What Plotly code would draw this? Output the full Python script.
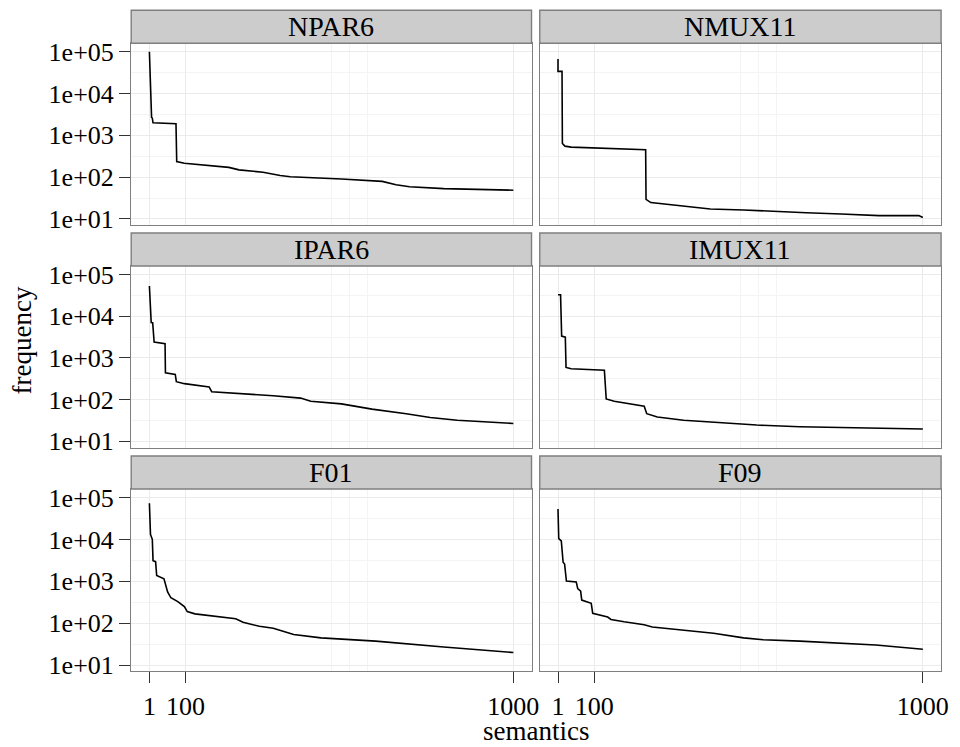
import plotly.graph_objects as go

W, H = 960, 747

panel_titles = ["NPAR6", "NMUX11", "IPAR6", "IMUX11", "F01", "F09"]

npar6_rank = [1, 2, 3, 7, 9, 11, 74, 76, 97, 154, 219, 247, 313, 360, 388, 528, 640, 678, 715, 809, 1000]
npar6_freq = [100000, 52000, 51000, 2700, 2600, 2000, 1900, 235, 214, 195, 171, 149, 131, 109, 102, 90, 79, 66, 59, 53, 48.7]

nmux11_rank = [1, 1, 12, 13, 20, 37, 241, 242, 255, 345, 418, 509, 581, 681, 776, 880, 989, 1000]
nmux11_freq = [67000, 34000, 34000, 640, 552, 524, 453, 29.4, 24.6, 19.8, 17.2, 16.3, 15.1, 14.1, 13.1, 12.0, 12.0, 10.8]

ipar6_rank = [1, 6, 10, 14, 44, 45, 72, 75, 97, 135, 165, 172, 247, 341, 416, 444, 528, 612, 706, 772, 846, 921, 1000]
ipar6_freq = [53300, 7100, 7000, 2400, 2200, 440, 400, 270, 242, 217, 202, 155, 141, 124, 109, 91.4, 79.1, 59.3, 46.1, 37.2, 32.2, 29.4, 26.9]

imux11_rank = [1, 8, 11, 21, 23, 37, 128, 133, 155, 237, 244, 273, 345, 454, 545, 663, 835, 1000]
imux11_freq = [32800, 32800, 3340, 3160, 593, 552, 505, 104, 91.4, 69.8, 46.1, 38.5, 32.2, 27.9, 24.6, 22.5, 20.9, 19.8]

f01_rank = [1, 4, 9, 11, 18, 21, 41, 46, 51, 60, 79, 97, 105, 126, 172, 238, 258, 303, 341, 397, 472, 622, 809, 1000]
f01_freq = [73600, 13200, 10100, 3120, 2950, 1380, 1155, 777, 561, 405, 327, 249, 190, 167, 150, 128, 105, 84.2, 75.5, 53.6, 44.7, 37.4, 27.0, 19.9]

f09_rank = [1, 3, 10, 15, 19, 24, 51, 55, 63, 66, 92, 96, 137, 146, 182, 237, 259, 336, 427, 509, 563, 663, 781, 871, 1000]
f09_freq = [53100, 10500, 9230, 2850, 2600, 1018, 964, 672, 582, 357, 298, 173, 140, 123, 108, 92.2, 81.3, 70.3, 57.7, 44.7, 40.2, 37.4, 33.0, 30.1, 23.8]

series = [
    (npar6_rank, npar6_freq),
    (nmux11_rank, nmux11_freq),
    (ipar6_rank, ipar6_freq),
    (imux11_rank, imux11_freq),
    (f01_rank, f01_freq),
    (f09_rank, f09_freq),
]

x_ticks = [1, 100, 1000]
x_tick_text = ["1", "100", "1000"]
x_minor = [500, 550, 600]
y_ticks = [10, 100, 1000, 10000, 100000]
y_tick_text = ["1e+01", "1e+02", "1e+03", "1e+04", "1e+05"]
y_minor = [31.62, 316.2, 3162, 31623]

FONT = "Liberation Serif"
BORDER = "#7f7f7f"

# pixel layout of the facet grid
col_px = [(132.3, 536.0), (544.3, 949.0)]
row_px = [(39.0, 224.3), (266.0, 451.0), (493.3, 679.0)]
strip_h = 33.7


def px_x(v):
    return v / W


def px_y(v):
    return 1 - v / H


fig = go.Figure()
layout = dict(
    width=W, height=H,
    margin=dict(l=0, r=0, t=0, b=0),
    paper_bgcolor="white", plot_bgcolor="white",
    showlegend=False,
    font=dict(family=FONT, color="black", size=26),
)
shapes = []
annotations = []

for i, (title, (xs, ys)) in enumerate(zip(panel_titles, series)):
    r, c = divmod(i, 2)
    n = "" if i == 0 else str(i + 1)
    xa, ya = "x" + n, "y" + n
    fig.add_trace(go.Scatter(
        x=xs, y=ys, xaxis=xa, yaxis=ya, mode="lines",
        line=dict(color="black", width=1.6), hoverinfo="skip",
    ))
    x0, x1 = col_px[c]
    y0, y1 = row_px[r]
    bottom = r == 2
    left = c == 0
    layout["xaxis" + n] = dict(
        domain=[px_x(x0), px_x(x1)], anchor=ya,
        range=[-48.95, 1049.95],
        tickmode="array", tickvals=x_ticks, ticktext=x_tick_text,
        showticklabels=bottom, ticks="outside" if bottom else "",
        ticklen=11, tickwidth=1.2, tickcolor="#333333",
        ticklabelstandoff=0,
        tickfont=dict(family=FONT, size=26, color="black"),
        showgrid=True, gridcolor="#ebebeb", gridwidth=1.2,
        minor=dict(tickvals=x_minor, showgrid=True, gridcolor="#f4f4f4", gridwidth=0.8),
        showline=True, linecolor=BORDER, linewidth=1.4, mirror=True,
        zeroline=False, fixedrange=True,
    )
    layout["yaxis" + n] = dict(
        domain=[px_y(y1), px_y(y0)], anchor=xa, type="log",
        range=[0.852, 5.204],
        tickmode="array", tickvals=y_ticks, ticktext=y_tick_text,
        showticklabels=left, ticks="outside" if left else "",
        ticklen=11, tickwidth=1.2, tickcolor="#333333",
        tickfont=dict(family=FONT, size=26, color="black"),
        showgrid=True, gridcolor="#ebebeb", gridwidth=1.2,
        minor=dict(tickvals=y_minor, showgrid=True, gridcolor="#f4f4f4", gridwidth=0.8),
        showline=True, linecolor=BORDER, linewidth=1.4, mirror=True,
        zeroline=False, fixedrange=True,
    )
    # facet strip
    shapes.append(dict(
        type="rect", xref="paper", yref="paper",
        x0=px_x(x0), x1=px_x(x1), y0=px_y(y0), y1=px_y(y0 - strip_h),
        fillcolor="#cccccc", line=dict(color=BORDER, width=1.4), layer="above",
    ))
    annotations.append(dict(
        text=title, xref="paper", yref="paper",
        x=px_x((x0 + x1) / 2), y=px_y(y0 - strip_h / 2),
        showarrow=False, xanchor="center", yanchor="middle",
        font=dict(family=FONT, size=28, color="black"),
    ))

annotations.append(dict(
    text="semantics", xref="paper", yref="paper",
    x=px_x(540.7), y=px_y(740), showarrow=False,
    xanchor="center", yanchor="middle",
    font=dict(family=FONT, size=27, color="black"),
))
annotations.append(dict(
    text="frequency", xref="paper", yref="paper",
    x=px_x(22), y=px_y(342), showarrow=False, textangle=-90,
    xanchor="center", yanchor="middle",
    font=dict(family=FONT, size=27, color="black"),
))

layout["shapes"] = shapes
layout["annotations"] = annotations
fig.update_layout(**layout)
fig.write_html("out.html")
